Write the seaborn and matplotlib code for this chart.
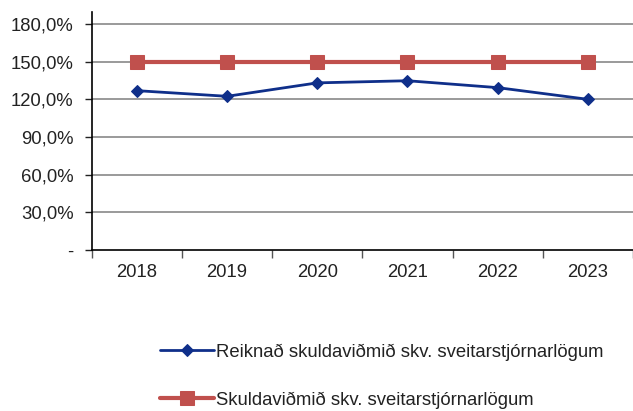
import matplotlib.pyplot as plt
import pandas as pd
import seaborn as sns
from matplotlib.ticker import FixedLocator, FuncFormatter

years = ["2018", "2019", "2020", "2021", "2022", "2023"]
reiknad = [126.8, 122.3, 133.0, 134.7, 129.2, 119.9]
vidmid = [150.0, 150.0, 150.0, 150.0, 150.0, 150.0]
label_reiknad = "Reiknað skuldaviðmið skv. sveitarstjórnarlögum"
label_vidmid = "Skuldaviðmið skv. sveitarstjórnarlögum"

sns.set_theme(style="white")
plt.rcParams["font.family"] = ["Liberation Sans", "DejaVu Sans"]

df = pd.DataFrame({"Ár": years, "Reiknað": reiknad, "Viðmið": vidmid})

fig = plt.figure(figsize=(6.33, 4.11), dpi=100)
ax = fig.add_axes([0.145, 0.392, 0.855, 0.579])

for y in [30, 60, 90, 120, 150, 180]:
    ax.axhline(y, color="#9a9a9a", linewidth=1.4, zorder=0)

sns.lineplot(
    data=df, x="Ár", y="Viðmið", ax=ax, color="#c0504d", linewidth=3,
    marker="s", markersize=10, markeredgecolor="#c0504d", label=label_vidmid,
)
sns.lineplot(
    data=df, x="Ár", y="Reiknað", ax=ax, color="#0f2f8a", linewidth=2,
    marker="D", markersize=6, markeredgecolor="#0f2f8a", label=label_reiknad,
)

ax.set_xlim(-0.5, 5.5)
ax.set_ylim(0, 189.5)
ax.set_yticks([0, 30, 60, 90, 120, 150, 180])
ax.yaxis.set_major_formatter(
    FuncFormatter(lambda v, _: "-" if v == 0 else f"{v:.1f}%".replace(".", ","))
)
ax.set_xticks(range(len(years)))
ax.set_xticklabels(years)
ax.xaxis.set_minor_locator(FixedLocator([i - 0.5 for i in range(len(years) + 1)]))
ax.tick_params(axis="x", which="major", bottom=True, length=0, pad=10,
               labelsize=13.3, labelcolor="#222222")
ax.tick_params(axis="x", which="minor", bottom=True, length=6, width=1,
               color="#555555", direction="out")
ax.tick_params(axis="y", left=True, length=5, width=1, color="#222222",
               direction="out", labelsize=13.3, labelcolor="#222222", pad=8)
ax.set_xlabel("")
ax.set_ylabel("")

sns.despine(ax=ax, top=True, right=True)
ax.spines["left"].set_color("#000000")
ax.spines["bottom"].set_color("#000000")
ax.spines["left"].set_linewidth(1.2)
ax.spines["bottom"].set_linewidth(1.2)

handles, labels = ax.get_legend_handles_labels()
ax.get_legend().remove()
order = [1, 0]
fig.legend(
    [handles[i] for i in order], [labels[i] for i in order],
    loc="upper left", bbox_to_anchor=(0.241, 0.182), frameon=False,
    fontsize=13.3, handlelength=2.9, handletextpad=0.15, labelspacing=1.65,
    borderaxespad=0, labelcolor="#222222",
)

fig.savefig("out.png", dpi=100)
